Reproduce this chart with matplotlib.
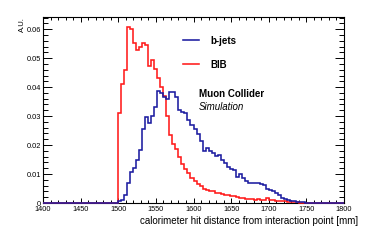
import numpy as np
import matplotlib
matplotlib.use("Agg")
import matplotlib.pyplot as plt
from matplotlib.ticker import MultipleLocator, FuncFormatter

plt.rcParams['font.family'] = ['Liberation Sans', 'DejaVu Sans']

# histogram binning: 4 mm bins from 1400 to 1800 mm
x_lo, x_hi, bin_w = 1400, 1800, 4
first_bin = 1500   # both samples are empty below this

# BIB, one value per 4 mm bin starting at 1500 mm
bib = [0.0310, 0.0410, 0.0460, 0.0608, 0.0602, 0.0553, 0.0528, 0.0540,
       0.0552, 0.0545, 0.0472, 0.0493, 0.0464, 0.0432, 0.0401, 0.0370,
       0.0300, 0.0235, 0.0205, 0.0188, 0.0160, 0.0135, 0.0118, 0.0103,
       0.0088, 0.0076, 0.0065, 0.0058, 0.0050, 0.0046, 0.0043, 0.0040,
       0.0036, 0.0034, 0.0031, 0.0028, 0.0027, 0.0025, 0.0023, 0.0020,
       0.0017, 0.0016, 0.0015, 0.0014, 0.0013, 0.0012, 0.0013, 0.0011,
       0.0012, 0.0016, 0.0010, 0.0009, 0.0008, 0.0008, 0.0007, 0.0006,
       0.0005, 0.0004, 0.0003, 0.0002, 0.0001, 0.0]

# b-jets
bjets = [0.0006, 0.0012, 0.0026, 0.0068, 0.0108, 0.0120, 0.0148, 0.0183,
         0.0256, 0.0298, 0.0275, 0.0300, 0.0330, 0.0387, 0.0380, 0.0366,
         0.0360, 0.0384, 0.0384, 0.0366, 0.0321, 0.0315, 0.0309, 0.0285,
         0.0270, 0.0255, 0.0238, 0.0215, 0.0178, 0.0190, 0.0180, 0.0172,
         0.0162, 0.0165, 0.0150, 0.0137, 0.0125, 0.0119, 0.0115, 0.0090,
         0.0100, 0.0088, 0.0075, 0.0070, 0.0069, 0.0068, 0.0070, 0.0066,
         0.0063, 0.0050, 0.0044, 0.0040, 0.0034, 0.0026, 0.0018, 0.0014,
         0.0010, 0.0008, 0.0006, 0.0005, 0.0004, 0.0002, 0.0001, 0.0]

edges = np.arange(x_lo, x_hi + bin_w, bin_w)
nbins = len(edges) - 1

def full_hist(vals):
    h = np.zeros(nbins)
    i0 = (first_bin - x_lo) // bin_w
    h[i0:i0 + len(vals)] = vals
    return h

fig = plt.figure(figsize=(3.74, 2.43), dpi=100)
ax = fig.add_axes([43/374, 1 - 203/243, 301/374, 186/243])

blue = '#1c1ca0'
red = '#ff1a1a'
ax.stairs(full_hist(bib), edges, color=red, lw=1.15, label='BIB', zorder=3, clip_on=False)
ax.stairs(full_hist(bjets), edges, color=blue, lw=1.15, label='b-jets', zorder=4, clip_on=False)

ax.set_xlim(x_lo, x_hi)
ax.set_ylim(0, 0.0642)

ax.xaxis.set_major_locator(MultipleLocator(50))
ax.xaxis.set_minor_locator(MultipleLocator(10))
ax.yaxis.set_major_locator(MultipleLocator(0.01))
ax.yaxis.set_minor_locator(MultipleLocator(0.002))
ax.yaxis.set_major_formatter(FuncFormatter(lambda v, p: '0' if abs(v) < 1e-9 else '%.2f' % v))

ax.tick_params(axis='both', which='both', direction='in', top=True, right=True,
               width=0.7, labelsize=5.3, color='black')
ax.tick_params(axis='x', which='major', length=3.8, pad=2.4)
ax.tick_params(axis='x', which='minor', length=1.9)
ax.tick_params(axis='y', which='major', length=6.5, pad=1.5)
ax.tick_params(axis='y', which='minor', length=3.3)
for s in ax.spines.values():
    s.set_linewidth(0.8)

fig.text(358/374, 1 - 221/243, 'calorimeter hit distance from interaction point [mm]',
         ha='right', va='center', fontsize=7)
fig.text(22/374, 1 - 17/243, 'A.U.', rotation=90, ha='center', va='top', fontsize=5.5)

handles, labels = ax.get_legend_handles_labels()
leg = ax.legend(handles[::-1], labels[::-1], loc='upper left',
                bbox_to_anchor=(183/374, 1 - 35.5/243), bbox_transform=fig.transFigure,
                frameon=False, handlelength=1.6, handletextpad=1.2,
                labelspacing=1.45, borderpad=0, borderaxespad=0,
                prop={'weight': 'bold', 'size': 7})

ax.text(199/374, 1 - 94/243, 'Muon Collider', transform=fig.transFigure,
        fontsize=7, fontweight='bold', va='center', ha='left')
ax.text(199/374, 1 - 107/243, 'Simulation', transform=fig.transFigure,
        fontsize=7, fontstyle='italic', va='center', ha='left')

fig.savefig('out.png', dpi=100)
